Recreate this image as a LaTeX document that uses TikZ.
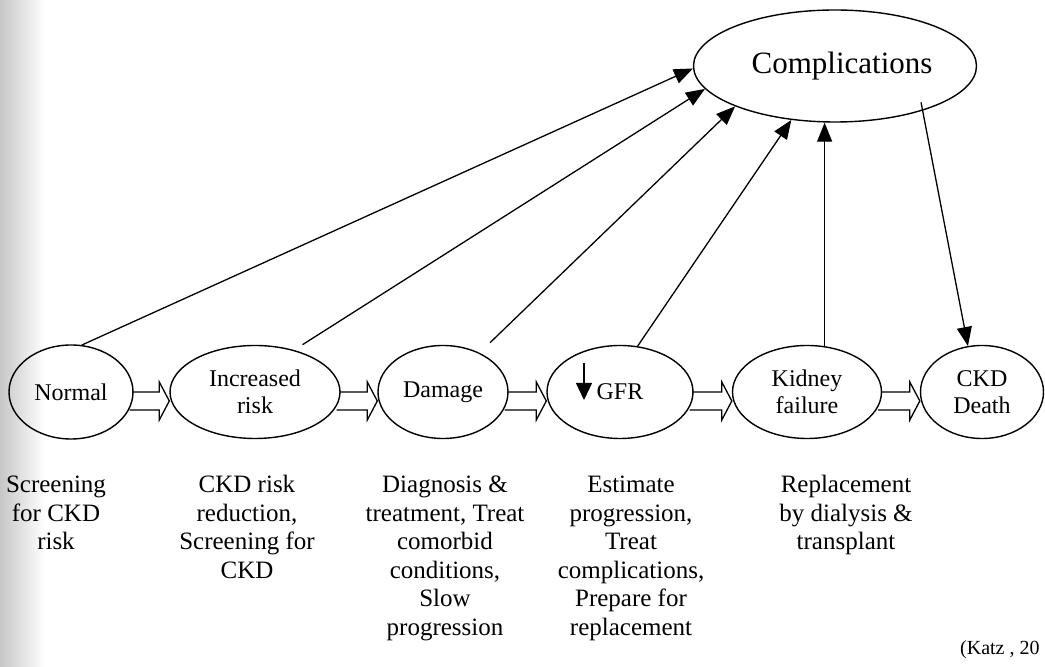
\documentclass[tikz,border=0pt]{standalone}
\usepackage{fontspec}
\setmainfont{Liberation Serif}
\usetikzlibrary{shapes.geometric,arrows.meta,calc}
\newcommand\fatarr[2]{%
  \draw[fat] ([xshift=-1pt]#1.east) -- ([xshift=-10pt]#2.west) -- ([xshift=-10pt,yshift=10pt]#2.west)
    -- ([yshift=-9pt]#2.west) -- ([xshift=-10pt,yshift=-28pt]#2.west)
    -- ([xshift=-10pt,yshift=-18pt]#2.west) -- ([xshift=-4pt,yshift=-18pt]#1.east);}
\begin{document}
\begin{tikzpicture}[x=1pt,y=1pt,
  st/.style={ellipse, draw, line width=1.4pt, inner sep=0pt, font=\fontsize{24}{27}\selectfont, align=center},
  desc/.style={align=center, font=\fontsize{25}{28.5}\selectfont, anchor=base, inner sep=0pt},
  conn/.style={line width=1.3pt, -{Triangle[length=19pt,width=15pt]}},
  fat/.style={line width=1.3pt, line join=miter}]
\useasboundingbox (0,0) rectangle (1045,667);
\shade[left color=black!22, right color=white] (0,0) rectangle (45,667);

\node[st, minimum width=124pt, minimum height=94pt] (norm) at (71,275) {Normal};
\node[st, minimum width=170pt, minimum height=93pt] (inc) at (255,275) {Increased\\risk};
\node[st, minimum width=130pt, minimum height=93pt] (dam) at (443,275) {Damage};
\node[st, minimum width=146pt, minimum height=93pt] (gfr) at (620,275) {\raisebox{-2pt}{GFR}};
\node[st, minimum width=149pt, minimum height=93pt] (kid) at (807,275) {Kidney\\failure};
\node[st, minimum width=123pt, minimum height=93pt] (death) at (982,275) {CKD\\Death};
\node[st, minimum width=283pt, minimum height=112pt, font=\fontsize{31}{36}\selectfont] (comp) at (835,601) {\hspace*{14pt}\raisebox{5pt}{Complications}};

\draw[line width=1.3pt, -{Triangle[length=17pt,width=16pt]}] ([shift={(-36pt,29pt)}]gfr.center) -- ([shift={(-36pt,-8pt)}]gfr.center);

\fatarr{norm}{inc}
\fatarr{inc}{dam}
\fatarr{dam}{gfr}
\fatarr{gfr}{kid}
\fatarr{kid}{death}

\draw[conn] (norm.77) -- (comp.181);
\draw[conn, shorten <=10pt] (inc.47) -- (comp.190);
\draw[conn, shorten <=14.5pt] (dam.47) -- (comp.202);
\draw[conn] (gfr.69) -- (comp.231);
\draw[conn] (kid.69) -- (kid.69 |- comp.south);
\draw[conn, shorten <=-8.5pt] (comp.333) -- (death.107);

\node[desc] (d1) at (56,117) {Screening\\for CKD\\risk};
\node[desc] (d2) at (247,88.5) {CKD risk\\reduction,\\Screening for\\CKD};
\node[desc] (d3) at (445,31.5) {Diagnosis \&\\treatment, Treat\\comorbid\\conditions,\\Slow\\progression};
\node[desc] (d4) at (631,31.5) {Estimate\\progression,\\Treat\\complications,\\Prepare for\\replacement};
\node[desc] (d5) at (846,117) {Replacement\\by dialysis \&\\transplant};
\node[font=\fontsize{20}{24}\selectfont, anchor=base west, inner sep=0pt] (src) at (960,12) {(Katz , 20};
\end{tikzpicture}
\end{document}
